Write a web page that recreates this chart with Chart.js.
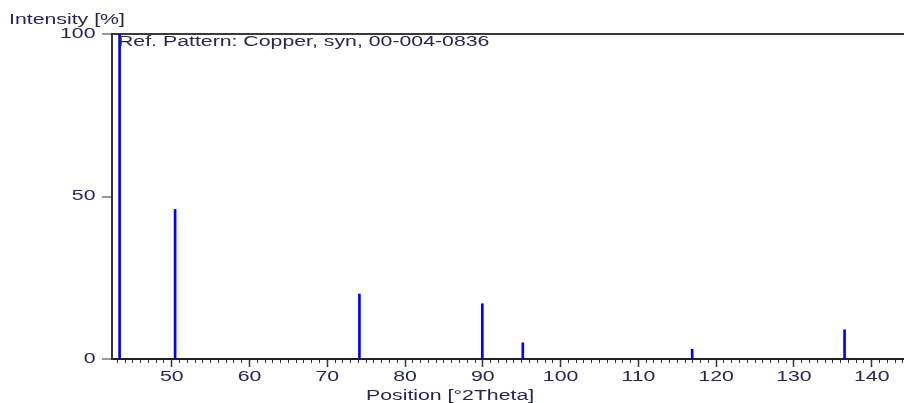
<!DOCTYPE html>
<html>
<head>
<meta charset="utf-8">
<script src="https://cdn.jsdelivr.net/npm/chart.js@4/dist/chart.umd.min.js"></script>
<style>
  html, body { margin: 0; padding: 0; background: #ffffff; }
  #wrap { width: 904px; height: 403px; position: relative; }
</style>
</head>
<body>
<div id="wrap"><canvas id="c"></canvas></div>
<script>
// ---- data ----
const peakPositions = [43.297, 50.433, 74.130, 89.931, 95.139, 116.919, 136.507];
const peakIntensities = [100, 46, 20, 17, 5, 3, 9];
const xTickValues = [50, 60, 70, 80, 90, 100, 110, 120, 130, 140];
const yTickValues = [0, 50, 100];
const xRange = [42.32, 144.15];
const yRange = [0, 100];
const yAxisTitle = 'Intensity [%]';
const xAxisTitle = 'Position [\u00B02Theta]';
const patternLabel = 'Ref. Pattern: Copper, syn, 00-004-0836';

const FONT = '"Liberation Sans", Arial, sans-serif';
const TEXT = '#262650';
const TEXT_STRETCH = 1.52; // the reference's text is horizontally wide

const canvas = document.getElementById('c');
const ctx2d = canvas.getContext('2d');
const nativeFillText = ctx2d.fillText;
ctx2d.fillText = function (text, x, y, maxWidth) {
  this.save();
  this.translate(x, y);
  this.scale(TEXT_STRETCH, 1);
  if (maxWidth !== undefined) nativeFillText.call(this, text, 0, 0, maxWidth / TEXT_STRETCH);
  else nativeFillText.call(this, text, 0, 0);
  this.restore();
};

const textPlugin = {
  id: 'textPlugin',
  afterDraw(chart) {
    const ctx = chart.ctx;
    const area = chart.chartArea;
    ctx.save();
    ctx.font = '14px ' + FONT;
    ctx.fillStyle = TEXT;
    ctx.textAlign = 'left';
    ctx.textBaseline = 'alphabetic';
    ctx.fillText(yAxisTitle, 9, 24);
    ctx.fillText(patternLabel, area.left + 6, 46);
    ctx.fillText(xAxisTitle, 366, 400);
    ctx.restore();
  }
};

new Chart(canvas, {
  type: 'bar',
  data: {
    datasets: [{
      data: peakPositions.map((p, i) => ({ x: p, y: peakIntensities[i] })),
      backgroundColor: '#0000ff',
      borderWidth: 0,
      barThickness: 2,
      xAxisID: 'x',
      yAxisID: 'y'
    }]
  },
  options: {
    responsive: true,
    maintainAspectRatio: false,
    animation: false,
    devicePixelRatio: 1,
    layout: { padding: { left: 0, right: 0, top: 34, bottom: 0 } },
    plugins: { legend: { display: false }, tooltip: { enabled: false }, title: { display: false } },
    scales: {
      x: {
        type: 'linear',
        position: 'bottom',
        min: xRange[0],
        max: xRange[1],
        offset: false,
        afterBuildTicks: (s) => { s.ticks = xTickValues.map(v => ({ value: v })); },
        afterFit: (s) => { s.height = 44; },
        grid: { display: true, drawOnChartArea: false, offset: false, tickLength: 8, tickWidth: 1.5, tickColor: '#333333' },
        border: { display: true, color: '#222222', width: 2 },
        ticks: { autoSkip: false, maxRotation: 0, padding: 1.5, color: TEXT, font: { family: FONT, size: 14 } }
      },
      x2: {
        type: 'linear',
        axis: 'x',
        position: { y: 0 },
        min: xRange[0],
        max: xRange[1],
        offset: false,
        ticks: { display: false, stepSize: 1, includeBounds: false },
        grid: { display: true, drawOnChartArea: false, offset: false, tickLength: 4, tickWidth: 1, tickColor: '#333333' },
        border: { display: false }
      },
      y: {
        type: 'linear',
        position: 'left',
        min: yRange[0],
        max: yRange[1],
        afterBuildTicks: (s) => { s.ticks = yTickValues.map(v => ({ value: v })); },
        afterFit: (s) => { s.width = 112; },
        grid: {
          display: true,
          drawOnChartArea: true,
          color: (c) => (c.tick && c.tick.value === 100 ? '#3a3a3a' : 'rgba(0,0,0,0)'),
          lineWidth: 2,
          tickLength: 10,
          tickWidth: 1,
          tickColor: '#333333'
        },
        border: { display: true, color: '#333333', width: 2 },
        ticks: { padding: 6.5, color: TEXT, font: { family: FONT, size: 14 } }
      }
    }
  },
  plugins: [textPlugin]
});
</script>
</body>
</html>
